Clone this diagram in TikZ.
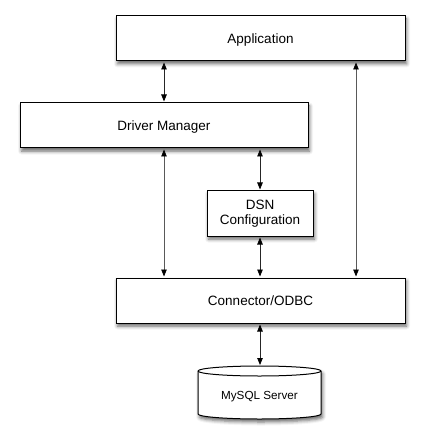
\documentclass[tikz,border=0pt]{standalone}
\usepackage{fontspec}
\setmainfont{Liberation Sans}
\usetikzlibrary{arrows.meta,shadows.blur}
\begin{document}
\begin{tikzpicture}[x=1pt,y=-1pt,
  shad/.style={blur shadow={shadow xshift=1.5pt,shadow yshift=-3pt,shadow blur radius=3.5pt,shadow opacity=60}},
  box/.style={draw=black,line width=1pt,fill=white,minimum height=45pt,inner sep=0pt,align=center,
    font=\fontsize{13.5pt}{16pt}\selectfont,shad},
  onebox/.style={box,text height=9.8pt,text depth=0pt},
  link/.style={draw=black!85,line width=0.8pt,{Triangle[length=7pt,width=5.5pt,color=black]}-{Triangle[length=7pt,width=5.5pt,color=black]},shorten <=1pt,shorten >=1pt},
  longlink/.style={link,draw=black!65}]
\useasboundingbox (0,0) rectangle (423,443);
\node[onebox,minimum width=289pt] (app) at (260.5,38.5) {Application};
\node[onebox,minimum width=288pt] (dm) at (164,125.5) {Driver Manager};
\node[box,minimum width=106pt,font=\fontsize{13.5pt}{15.5pt}\selectfont] (dsn) at (260,213.5) {DSN\\Configuration};
\node[onebox,minimum width=289pt] (conn) at (260.5,300.5) {Connector/ODBC};
% cylinder
\path[draw=black,line width=1pt,fill=white,shad]
  (198,371) -- (198,414) arc[start angle=180,end angle=0,x radius=61.5,y radius=5]
  -- (321,371) arc[start angle=0,end angle=-180,x radius=61.5,y radius=5] -- cycle;
\draw[line width=1pt] (198,371) arc[start angle=180,end angle=0,x radius=61.5,y radius=5];
\node[font=\fontsize{11.7pt}{14pt}\selectfont,inner sep=0pt,text height=8.4pt,text depth=0pt] (db) at (259.5,395) {MySQL Server};
\coordinate (dbtop) at (260,366);
\coordinate (rx) at (356,0);
% connectors
\draw[link] (app.south -| dm.north) -- (dm.north);
\draw[longlink] (dm.south) -- (dm.south |- conn.north);
\draw[link] (dm.south -| dsn.north) -- (dsn.north);
\draw[link] (dsn.south) -- (dsn.south |- conn.north);
\draw[longlink] (app.south -| rx) -- (conn.north -| rx);
\draw[link] (conn.south -| dbtop) -- (dbtop);
\end{tikzpicture}
\end{document}
